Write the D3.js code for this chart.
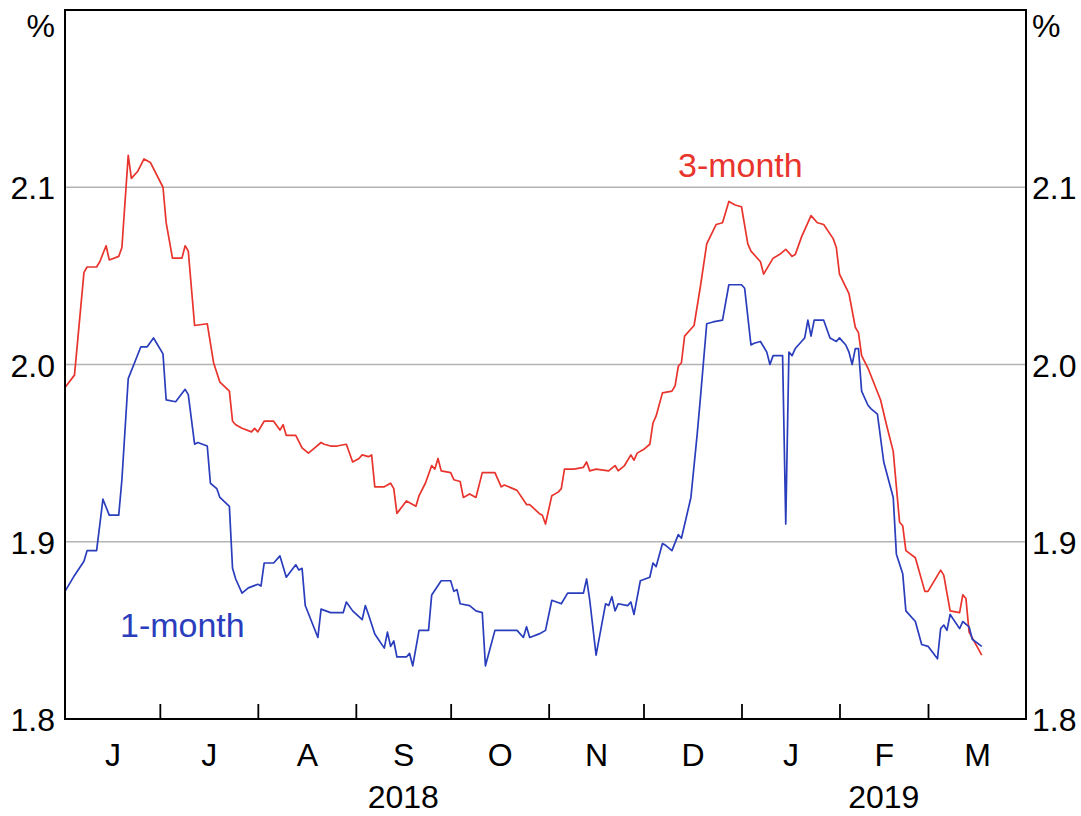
<!DOCTYPE html>
<html>
<head>
<meta charset="utf-8">
<script src="https://cdn.jsdelivr.net/npm/d3@7"></script>
<style>
  html, body { margin: 0; padding: 0; background: #fff; }
  svg { display: block; font-family: Arial, "Liberation Sans", sans-serif; }
</style>
</head>
<body>
<svg id="chart" width="1081" height="816"></svg>
<script>
// ---------- data ----------
const monthLabels = ["J", "J", "A", "S", "O", "N", "D", "J", "F", "M"];
const yearLabels = ["2018", "2019"];
const yTicks = [1.8, 1.9, 2.0, 2.1];
const yTickLabels = ["1.8", "1.9", "2.0", "2.1"];
const unitLabel = "%";
const seriesNames = ["3-month", "1-month"];

const dates3m = ["2018-06-01","2018-06-04","2018-06-07","2018-06-08","2018-06-11","2018-06-12","2018-06-14","2018-06-15","2018-06-18","2018-06-19","2018-06-21","2018-06-22","2018-06-24","2018-06-26","2018-06-28","2018-07-02","2018-07-03","2018-07-05","2018-07-08","2018-07-09","2018-07-10","2018-07-12","2018-07-16","2018-07-18","2018-07-20","2018-07-23","2018-07-24","2018-07-25","2018-07-27","2018-07-30","2018-07-31","2018-08-01","2018-08-03","2018-08-06","2018-08-08","2018-08-09","2018-08-10","2018-08-13","2018-08-15","2018-08-17","2018-08-19","2018-08-21","2018-08-22","2018-08-24","2018-08-26","2018-08-29","2018-08-31","2018-09-02","2018-09-03","2018-09-05","2018-09-06","2018-09-07","2018-09-10","2018-09-12","2018-09-13","2018-09-14","2018-09-17","2018-09-20","2018-09-21","2018-09-23","2018-09-25","2018-09-26","2018-09-27","2018-09-28","2018-10-01","2018-10-02","2018-10-04","2018-10-05","2018-10-07","2018-10-09","2018-10-11","2018-10-13","2018-10-15","2018-10-17","2018-10-18","2018-10-22","2018-10-25","2018-10-26","2018-10-29","2018-10-30","2018-10-31","2018-11-02","2018-11-04","2018-11-05","2018-11-06","2018-11-09","2018-11-12","2018-11-13","2018-11-14","2018-11-16","2018-11-20","2018-11-22","2018-11-23","2018-11-25","2018-11-27","2018-11-28","2018-11-29","2018-12-01","2018-12-03","2018-12-04","2018-12-05","2018-12-07","2018-12-10","2018-12-11","2018-12-12","2018-12-13","2018-12-14","2018-12-16","2018-12-17","2018-12-19","2018-12-21","2018-12-24","2018-12-26","2018-12-28","2018-12-30","2019-01-01","2019-01-03","2019-01-04","2019-01-07","2019-01-08","2019-01-11","2019-01-13","2019-01-15","2019-01-17","2019-01-18","2019-01-20","2019-01-23","2019-01-25","2019-01-27","2019-01-30","2019-01-31","2019-02-01","2019-02-04","2019-02-06","2019-02-07","2019-02-08","2019-02-10","2019-02-12","2019-02-14","2019-02-16","2019-02-18","2019-02-20","2019-02-21","2019-02-22","2019-02-25","2019-02-28","2019-03-01","2019-03-05","2019-03-06","2019-03-08","2019-03-11","2019-03-12","2019-03-13","2019-03-14","2019-03-18"];
const values3m = [1.987,1.994,2.052,2.055,2.055,2.058,2.067,2.059,2.061,2.066,2.118,2.105,2.109,2.116,2.114,2.100,2.080,2.060,2.060,2.067,2.064,2.022,2.023,2.001,1.990,1.985,1.968,1.966,1.964,1.962,1.964,1.962,1.968,1.968,1.963,1.966,1.960,1.960,1.953,1.950,1.953,1.956,1.955,1.954,1.954,1.955,1.945,1.947,1.949,1.948,1.949,1.931,1.931,1.933,1.930,1.916,1.923,1.920,1.926,1.933,1.943,1.941,1.947,1.940,1.939,1.935,1.934,1.925,1.927,1.925,1.939,1.939,1.939,1.931,1.932,1.929,1.921,1.921,1.916,1.915,1.910,1.926,1.928,1.930,1.941,1.941,1.942,1.945,1.940,1.941,1.940,1.943,1.940,1.943,1.949,1.946,1.950,1.952,1.955,1.967,1.971,1.984,1.985,1.988,1.999,2.001,2.016,2.020,2.022,2.044,2.068,2.079,2.080,2.092,2.090,2.089,2.068,2.064,2.058,2.051,2.060,2.062,2.065,2.061,2.062,2.072,2.084,2.080,2.079,2.071,2.066,2.051,2.040,2.021,2.018,2.005,1.998,1.989,1.980,1.965,1.951,1.911,1.909,1.895,1.891,1.872,1.872,1.884,1.881,1.861,1.860,1.870,1.868,1.849,1.836];

const dates1m = ["2018-06-01","2018-06-04","2018-06-07","2018-06-08","2018-06-11","2018-06-13","2018-06-15","2018-06-18","2018-06-19","2018-06-21","2018-06-23","2018-06-25","2018-06-27","2018-06-29","2018-06-30","2018-07-02","2018-07-03","2018-07-06","2018-07-09","2018-07-10","2018-07-12","2018-07-13","2018-07-16","2018-07-17","2018-07-19","2018-07-20","2018-07-23","2018-07-24","2018-07-25","2018-07-27","2018-07-29","2018-08-01","2018-08-02","2018-08-03","2018-08-06","2018-08-08","2018-08-10","2018-08-13","2018-08-14","2018-08-15","2018-08-16","2018-08-20","2018-08-21","2018-08-24","2018-08-28","2018-08-29","2018-08-31","2018-09-03","2018-09-04","2018-09-05","2018-09-07","2018-09-10","2018-09-11","2018-09-12","2018-09-13","2018-09-14","2018-09-17","2018-09-18","2018-09-19","2018-09-21","2018-09-24","2018-09-25","2018-09-28","2018-10-01","2018-10-02","2018-10-03","2018-10-04","2018-10-07","2018-10-09","2018-10-11","2018-10-12","2018-10-15","2018-10-22","2018-10-24","2018-10-25","2018-10-26","2018-10-29","2018-10-31","2018-11-02","2018-11-05","2018-11-07","2018-11-12","2018-11-13","2018-11-14","2018-11-16","2018-11-19","2018-11-20","2018-11-21","2018-11-22","2018-11-23","2018-11-26","2018-11-27","2018-11-28","2018-11-30","2018-12-03","2018-12-04","2018-12-05","2018-12-07","2018-12-08","2018-12-10","2018-12-12","2018-12-13","2018-12-16","2018-12-18","2018-12-19","2018-12-21","2018-12-23","2018-12-26","2018-12-28","2019-01-01","2019-01-02","2019-01-04","2019-01-05","2019-01-07","2019-01-08","2019-01-09","2019-01-10","2019-01-11","2019-01-14","2019-01-15","2019-01-16","2019-01-17","2019-01-18","2019-01-20","2019-01-21","2019-01-22","2019-01-23","2019-01-24","2019-01-27","2019-01-29","2019-01-31","2019-02-01","2019-02-03","2019-02-04","2019-02-05","2019-02-06","2019-02-07","2019-02-08","2019-02-10","2019-02-11","2019-02-13","2019-02-15","2019-02-18","2019-02-19","2019-02-21","2019-02-22","2019-02-25","2019-02-27","2019-03-01","2019-03-04","2019-03-05","2019-03-06","2019-03-07","2019-03-08","2019-03-11","2019-03-12","2019-03-14","2019-03-15","2019-03-18"];
const values1m = [1.872,1.881,1.889,1.895,1.895,1.924,1.915,1.915,1.935,1.992,2.001,2.010,2.010,2.015,2.012,2.006,1.980,1.979,1.986,1.983,1.955,1.956,1.954,1.933,1.930,1.925,1.920,1.885,1.879,1.871,1.874,1.876,1.875,1.888,1.888,1.892,1.880,1.887,1.884,1.885,1.864,1.846,1.862,1.860,1.860,1.866,1.861,1.856,1.864,1.859,1.848,1.840,1.849,1.841,1.844,1.835,1.835,1.837,1.830,1.850,1.850,1.870,1.878,1.878,1.872,1.873,1.865,1.864,1.861,1.860,1.830,1.850,1.850,1.846,1.852,1.846,1.848,1.850,1.867,1.865,1.871,1.871,1.879,1.867,1.836,1.865,1.864,1.869,1.861,1.865,1.864,1.866,1.859,1.878,1.880,1.888,1.886,1.899,1.898,1.895,1.904,1.902,1.925,1.961,1.981,2.023,2.024,2.025,2.045,2.045,2.043,2.011,2.012,2.013,2.010,2.007,2.000,2.005,2.005,1.910,2.007,2.005,2.009,2.013,2.015,2.025,2.016,2.025,2.025,2.015,2.013,2.015,2.011,2.007,2.000,2.009,2.009,1.985,1.977,1.975,1.972,1.945,1.925,1.893,1.882,1.861,1.855,1.842,1.841,1.834,1.851,1.853,1.850,1.859,1.851,1.855,1.852,1.845,1.841];

// ---------- setup ----------
const W = 1081, H = 816;
const plot = { left: 65, right: 1026, top: 10, bottom: 719 };
const RED = "#e8342c", BLUE = "#2a3dbd";
const FONT = 32;

const parse = d3.timeParse("%Y-%m-%d");
const svg = d3.select("#chart");

const x = d3.scaleTime()
  .domain([new Date(2018, 5, 1), new Date(2019, 3, 1)])
  .range([plot.left, plot.right]);
const y = d3.scaleLinear().domain([1.8, 2.2]).range([plot.bottom, plot.top]);

// gridlines
svg.append("g").selectAll("line")
  .data(yTicks.filter(v => v > 1.8))
  .join("line")
  .attr("x1", plot.left).attr("x2", plot.right)
  .attr("y1", d => y(d)).attr("y2", d => y(d))
  .attr("stroke", "#b3b3b3").attr("stroke-width", 1.5);

// series lines
const line = d3.line().x(d => x(d.date)).y(d => y(d.value));
const s3 = dates3m.map((d, i) => ({ date: parse(d), value: values3m[i] }));
const s1 = dates1m.map((d, i) => ({ date: parse(d), value: values1m[i] }));

svg.append("path").datum(s3).attr("d", line)
  .attr("fill", "none").attr("stroke", RED).attr("stroke-width", 1.7)
  .attr("stroke-linejoin", "round");
svg.append("path").datum(s1).attr("d", line)
  .attr("fill", "none").attr("stroke", BLUE).attr("stroke-width", 1.7)
  .attr("stroke-linejoin", "round");

// month tick marks (inside, from bottom)
const monthStarts = d3.timeMonth.range(new Date(2018, 6, 1), new Date(2019, 2, 2));
const tickAxis = d3.axisBottom(x).tickValues(monthStarts).tickSizeInner(-15).tickSizeOuter(0).tickFormat("");
const gt = svg.append("g").attr("transform", `translate(0,${plot.bottom})`).call(tickAxis);
gt.select(".domain").remove();
gt.selectAll(".tick line").attr("stroke", "#000").attr("stroke-width", 1.8);

// month labels at mid-month
const allMonths = d3.timeMonth.range(new Date(2018, 5, 1), new Date(2019, 3, 1));
const mids = allMonths.map(m => new Date((+m + +d3.timeMonth.offset(m, 1)) / 2));
const labAxis = d3.axisBottom(x).tickValues(mids).tickSize(0).tickPadding(0)
  .tickFormat((d, i) => monthLabels[i]);
const gl = svg.append("g").attr("transform", `translate(0,${plot.bottom})`).call(labAxis);
gl.select(".domain").remove();
gl.selectAll(".tick text")
  .attr("y", 47).attr("dy", null)
  .attr("font-size", FONT).attr("font-family", "Arial, 'Liberation Sans', sans-serif")
  .attr("fill", "#000");

// year labels
const yearSpans = [[new Date(2018, 5, 1), new Date(2019, 0, 1)], [new Date(2019, 0, 1), new Date(2019, 3, 1)]];
svg.append("g").selectAll("text")
  .data(yearSpans)
  .join("text")
  .attr("x", d => (x(d[0]) + x(d[1])) / 2)
  .attr("y", 808)
  .attr("text-anchor", "middle")
  .attr("font-size", FONT)
  .attr("fill", "#000")
  .text((d, i) => yearLabels[i]);

// y axes
function styleY(g) {
  g.select(".domain").remove();
  g.selectAll(".tick line").remove();
  g.selectAll(".tick text")
    .attr("font-size", FONT).attr("font-family", "Arial, 'Liberation Sans', sans-serif")
    .attr("fill", "#000").attr("dy", "0.36em");
}
const yl = svg.append("g").attr("transform", `translate(${plot.left},0)`)
  .call(d3.axisLeft(y).tickValues(yTicks).tickSize(0).tickPadding(10).tickFormat((d, i) => yTickLabels[i]));
styleY(yl);
const yr = svg.append("g").attr("transform", `translate(${plot.right},0)`)
  .call(d3.axisRight(y).tickValues(yTicks).tickSize(0).tickPadding(6).tickFormat((d, i) => yTickLabels[i]));
styleY(yr);

// unit labels
svg.append("text").attr("x", plot.left - 10).attr("y", 37).attr("text-anchor", "end")
  .attr("font-size", FONT).attr("fill", "#000").text(unitLabel);
svg.append("text").attr("x", plot.right + 6).attr("y", 37).attr("text-anchor", "start")
  .attr("font-size", FONT).attr("fill", "#000").text(unitLabel);

// frame
svg.append("rect")
  .attr("x", plot.left).attr("y", plot.top)
  .attr("width", plot.right - plot.left).attr("height", plot.bottom - plot.top)
  .attr("fill", "none").attr("stroke", "#000").attr("stroke-width", 2);

// series labels
svg.append("text").attr("x", 678).attr("y", 177).attr("font-size", 34)
  .attr("fill", RED).text(seriesNames[0]);
svg.append("text").attr("x", 120).attr("y", 637).attr("font-size", 34)
  .attr("fill", BLUE).text(seriesNames[1]);
</script>
</body>
</html>
